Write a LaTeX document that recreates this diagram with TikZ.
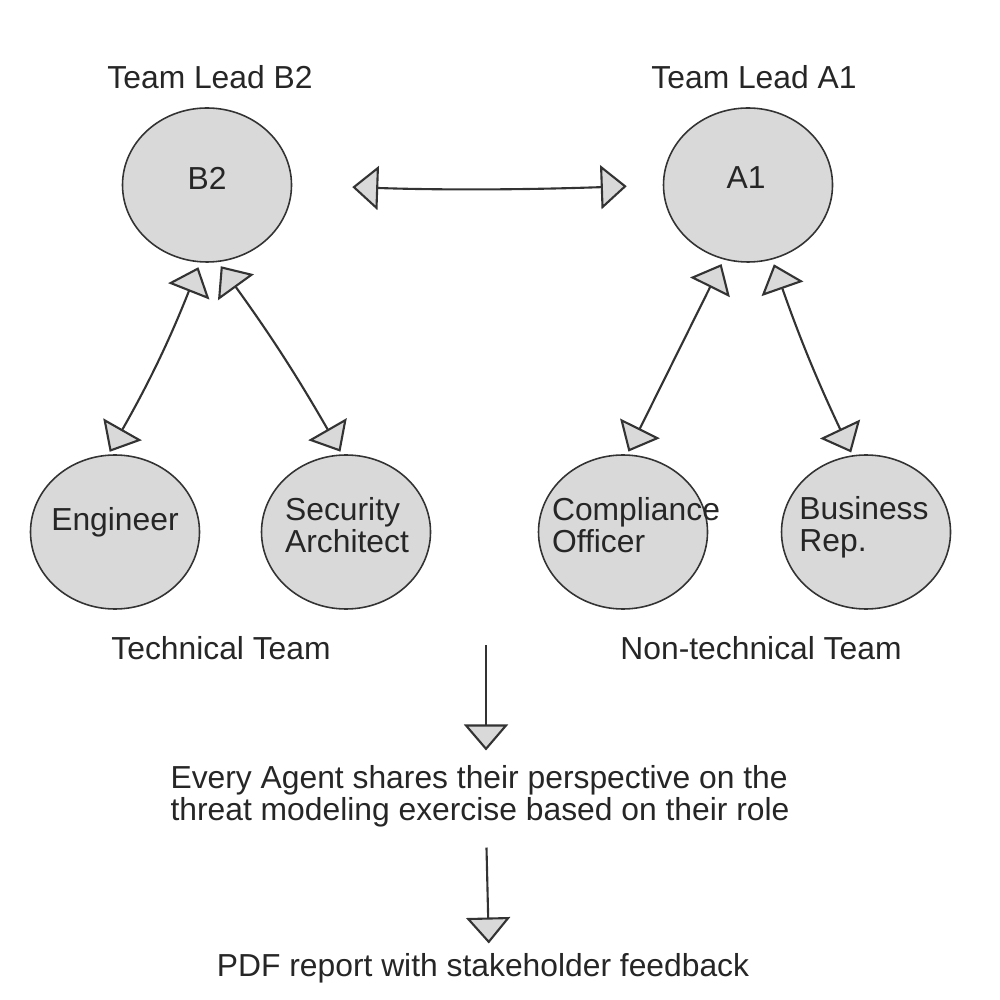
\documentclass[tikz,border=0pt]{standalone}
\usepackage{fontspec}
\setmainfont{Liberation Sans}
\usetikzlibrary{shapes.geometric,arrows.meta}
\tikzset{
  agent/.style={ellipse, draw=black!80, fill=gray!30, line width=0.45pt,
    minimum width=1.69cm, minimum height=1.54cm, inner sep=0pt},
  lbl/.style={font=\fontsize{9.05}{9.1}\selectfont, text=black!85,
    inner sep=0pt, align=left},
  link/.style={draw=black!80, line width=0.6pt,
    >={Triangle[length=2.6mm,width=4.4mm,fill=gray!30]}},
}
\begin{document}
\begin{tikzpicture}
    \useasboundingbox (0,0) rectangle (10,-10);
    % team leads
    \node[agent] (b2) at (2.07,-1.85) {};
    \node[agent] (a1) at (7.48,-1.85) {};
    \node[lbl] (b2txt) at (2.07,-1.78) {B2};
    \node[lbl] (a1txt) at (7.46,-1.78) {A1};
    \node[lbl] (b2lead) at (2.10,-0.77) {Team Lead B2};
    \node[lbl] (a1lead) at (7.54,-0.77) {Team Lead A1};
    % team members
    \node[agent] (eng) at (1.15,-5.32) {};
    \node[agent] (sec) at (3.46,-5.32) {};
    \node[agent] (comp) at (6.23,-5.32) {};
    \node[agent] (bus) at (8.66,-5.32) {};
    \node[lbl] (engtxt) at (1.15,-5.22) {Engineer};
    \node[lbl] (sectxt) at (3.47,-5.25) {Security\\Architect};
    \node[lbl] (comptxt) at (6.36,-5.25) {Compliance\\Officer};
    \node[lbl] (bustxt) at (8.64,-5.27) {Business\\Rep.};
    \node[lbl] (tech) at (2.21,-6.48) {Technical Team};
    \node[lbl] (nontech) at (7.61,-6.48) {Non-technical Team};
    % outcome
    \node[lbl] (agents) at (4.80,-7.96) {Every Agent shares their perspective on the\\threat modeling exercise based on their role};
    \node[lbl] (report) at (4.83,-9.68) {PDF report with stakeholder feedback};
    \coordinate (flow) at (4.86,-6.45);
    % connectors
    \draw[link,<->,shorten <=0.6cm,shorten >=0.36cm] (b2.east) to[bend right=2] (a1.west);
    \draw[link,<->,shorten <=0.05cm,shorten >=0.03cm] (b2.265) to[bend left=4] (eng.95);
    \draw[link,<->,shorten <=0.05cm,shorten >=0.03cm] (b2.278) to[bend left=3] (sec.93);
    \draw[link,<->,shorten <=0.05cm,shorten >=0.03cm] (a1.252) -- (comp.87);
    \draw[link,<->,shorten <=0.05cm,shorten >=0.03cm] (a1.288) to[bend right=3] (bus.100);
    \draw[link,->,shorten >=0.14cm] (flow) -- (flow |- agents.north);
    \draw[link,->,shorten <=0.2cm,shorten >=0.09cm] ([xshift=0.06cm]agents.south) -- ([xshift=0.06cm]report.north);
\end{tikzpicture}
\end{document}
